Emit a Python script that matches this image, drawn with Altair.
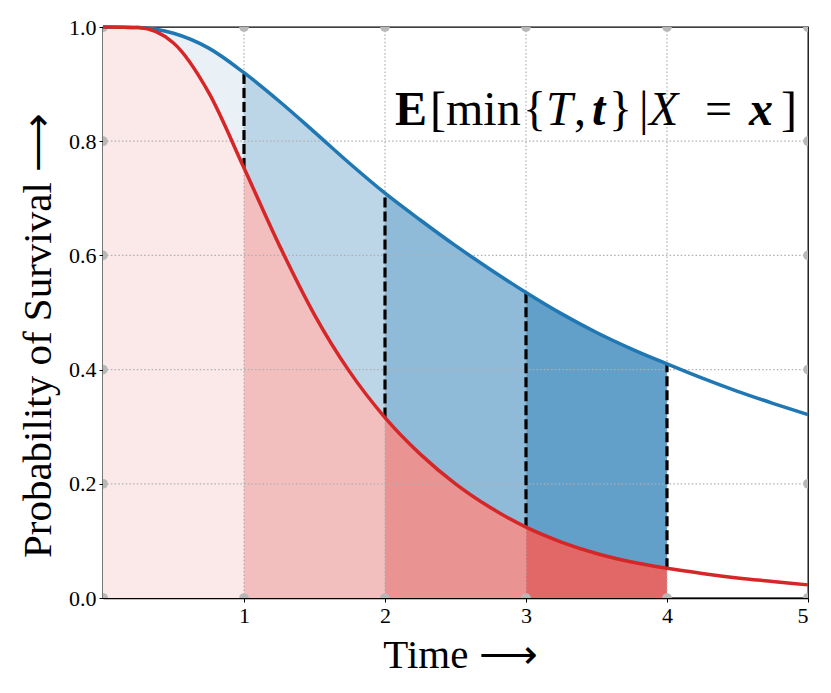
import altair as alt
import pandas as pd

# ---- data ----
times = [0.0, 0.25, 0.5, 0.75, 1.0, 1.25, 1.5, 1.75, 2.0, 2.25, 2.5,
         2.75, 3.0, 3.25, 3.5, 3.75, 4.0, 4.25, 4.5, 4.75, 5.0]
blue_surv = [1.0, 0.999, 0.989, 0.963, 0.920, 0.870, 0.816, 0.761, 0.709, 0.662, 0.617,
             0.575, 0.535, 0.498, 0.465, 0.436, 0.410, 0.385, 0.362, 0.341, 0.321]
red_surv = [1.0, 0.999, 0.972, 0.885, 0.753, 0.618, 0.496, 0.396, 0.316, 0.252, 0.200,
            0.158, 0.124, 0.098, 0.078, 0.063, 0.052, 0.043, 0.035, 0.029, 0.023]
cutoffs = [1, 2, 3, 4]
x_ticks = [1, 2, 3, 4, 5]
y_ticks = [0.0, 0.2, 0.4, 0.6, 0.8, 1.0]

# band fills (tab:red / tab:blue at alpha 0.1, 0.3, 0.5, 0.7 over white)
red_band_colors = ["#fbe9ea", "#f3bebe", "#ea9393", "#e26868"]
blue_band_colors = ["#e9f1f7", "#bcd6e8", "#8fbbd9", "#62a0ca"]

# annotation pieces: text, left px within plot, style
ann_text = ["E", "[", "min", "{", "T", ",", "t", "}", "|", "X", "=", "x", "]"]
ann_px = [292, 327, 343, 420, 443, 471, 489, 506, 536, 546, 602, 646, 678]
ann_style = ["bold", "normal", "normal", "normal", "italic", "normal", "bolditalic",
             "normal", "normal", "italic", "normal", "bolditalic", "normal"]

BLUE = "#1f77b4"
RED = "#d62728"
FONT = "Liberation Serif"
W, H = 705, 571

df = pd.DataFrame({"t": times, "blue": blue_surv, "red": red_surv})

rows = []
for k in range(len(cutoffs)):
    for t, b, r in zip(times, blue_surv, red_surv):
        if k <= t <= k + 1:
            rows.append({"t": t, "blue": b, "red": r, "band": k})
band_df = pd.DataFrame(rows)

cut_df = pd.DataFrame({
    "t": cutoffs,
    "red": [red_surv[times.index(c)] for c in cutoffs],
    "blue": [blue_surv[times.index(c)] for c in cutoffs],
})

vgrid = pd.DataFrame({"gx": cutoffs})
hgrid = pd.DataFrame({"gy": y_ticks[1:-1]})

dots = []
for xv in [0] + x_ticks:
    dots.append({"dx": xv, "dy": 0.0})
    dots.append({"dx": xv, "dy": 1.0})
for yv in y_ticks:
    dots.append({"dx": 0, "dy": yv})
    dots.append({"dx": 5, "dy": yv})
dots_df = pd.DataFrame(dots)

ann_df = pd.DataFrame({"txt": ann_text, "px": ann_px, "style": ann_style})

xscale = alt.Scale(domain=[0, 5], nice=False, zero=False)
yscale = alt.Scale(domain=[0, 1], nice=False, zero=True)
xaxis = alt.Axis(values=x_ticks, format="d", grid=False, title="Time ⟶",
                 titleX=357, titleY=69, titleBaseline="alphabetic", titleAlign="center")
yaxis = alt.Axis(values=y_ticks, format=".1f", grid=False, title="Probability of Survival ⟶",
                 titleX=-53, titleY=308, titleAngle=270, titleBaseline="alphabetic",
                 titleAlign="center")


def X(f):
    return alt.X(f, type="quantitative", scale=xscale, axis=xaxis)


def Y(f):
    return alt.Y(f, type="quantitative", scale=yscale, axis=yaxis, stack=None)


red_area = alt.Chart(band_df).mark_area(interpolate="monotone", opacity=1).encode(
    x=X("t"), y=Y("red"),
    color=alt.Color("band:O", scale=alt.Scale(domain=[0, 1, 2, 3], range=red_band_colors), legend=None))
blue_area = alt.Chart(band_df).mark_area(interpolate="monotone", opacity=1).encode(
    x=X("t"), y=Y("red"), y2="blue:Q",
    color=alt.Color("band:N", scale=alt.Scale(domain=[0, 1, 2, 3], range=blue_band_colors), legend=None))

vg = alt.Chart(vgrid).mark_rule(color="#b0b0b0", strokeWidth=1.2, strokeDash=[1.5, 2.2]).encode(x=X("gx"))
hg = alt.Chart(hgrid).mark_rule(color="#b0b0b0", strokeWidth=1.2, strokeDash=[1.5, 2.2]).encode(y=Y("gy"))

dot_layer = alt.Chart(dots_df).mark_circle(size=95, color="#b8b8b8", opacity=1, clip=True).encode(
    x=X("dx"), y=Y("dy"))

dash = alt.Chart(cut_df).mark_rule(color="black", strokeWidth=3.2, strokeDash=[10, 4]).encode(
    x=X("t"), y=Y("red"), y2="blue:Q")

blue_line = alt.Chart(df).mark_line(interpolate="monotone", color=BLUE, strokeWidth=3.5).encode(
    x=X("t"), y=Y("blue"))
red_line = alt.Chart(df).mark_line(interpolate="monotone", color=RED, strokeWidth=3.5).encode(
    x=X("t"), y=Y("red"))

ann_layers = []
for style, weight, fstyle in [("normal", "normal", "normal"), ("bold", "bold", "normal"),
                              ("italic", "normal", "italic"), ("bolditalic", "bold", "italic")]:
    ann_layers.append(
        alt.Chart(ann_df).transform_filter(alt.datum.style == style)
        .mark_text(font=FONT, fontSize=48, fontWeight=weight, fontStyle=fstyle,
                   align="left", baseline="alphabetic", color="black")
        .encode(x=alt.X("px:Q", scale=None), y=alt.value(98), text="txt:N")
    )

chart = alt.layer(red_area, blue_area, vg, hg, dot_layer, dash, blue_line, red_line, *ann_layers).resolve_scale(
    color="independent"
).properties(
    width=W, height=H,
    autosize=alt.AutoSizeParams(type="none"),
    padding={"left": 95, "top": 19, "right": 15, "bottom": 88},
).configure_view(
    stroke="black", strokeWidth=1.3
).configure_axis(
    domainColor="black", domainWidth=1.3, tickColor="black", tickSize=4, tickWidth=1,
    labelFont=FONT, labelFontSize=22, labelColor="black", labelPadding=3,
    titleFont=FONT, titleFontSize=41, titleFontWeight="normal", titleColor="black",
)

chart.save("out.html", embed_options={"renderer": "svg", "actions": False})
